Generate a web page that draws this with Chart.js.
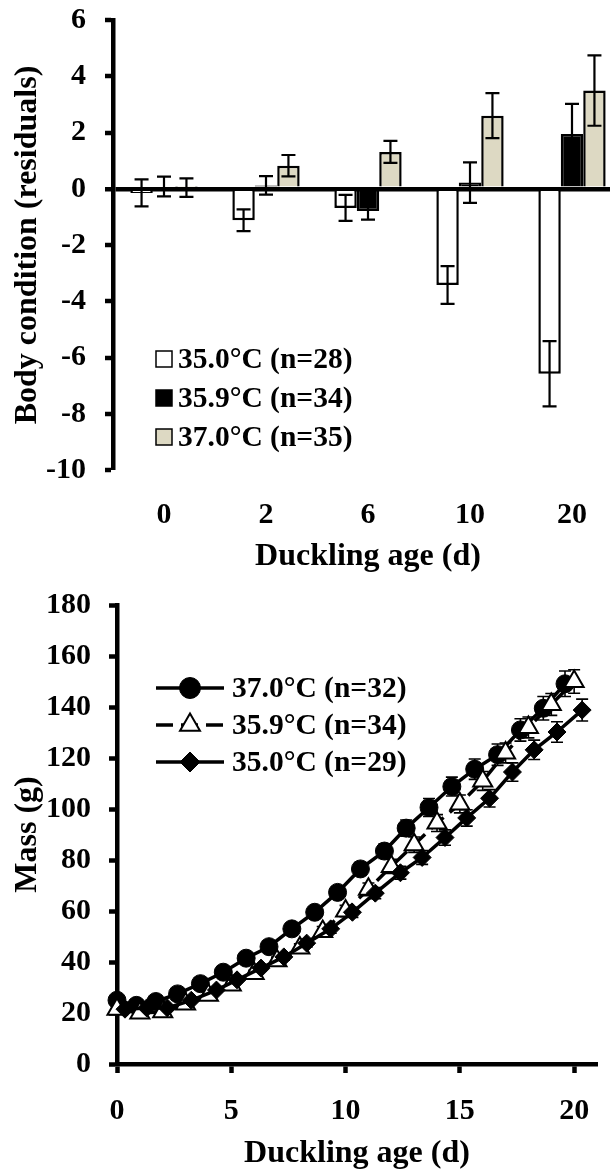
<!DOCTYPE html>
<html>
<head>
<meta charset="utf-8">
<title>Duckling body condition and mass</title>
<script src="https://cdn.jsdelivr.net/npm/chart.js@4.4.1/dist/chart.umd.min.js"></script>
<style>
    html, body { margin: 0; padding: 0; background: #fff; overflow: hidden; }
    #wrap { position: relative; width: 610px; height: 1171px; overflow: hidden; }
    canvas { position: absolute; left: 0; }
    #conditionChart { top: 0; }
    #massChart { top: 585px; }
</style>
</head>
<body>
<div id="wrap">
    <canvas id="conditionChart" width="625" height="585"></canvas>
    <canvas id="massChart" width="610" height="586"></canvas>
</div>
<script>
// =============================================================================
// Duckling body condition (residuals) and mass by incubation temperature
// =============================================================================

// ==========================================
// 1. DATA
// ==========================================

// --- body condition, mean ± SE per age group
const ageGroups = ['0', '2', '6', '10', '20'];
const condTicks = [-10, -8, -6, -4, -2, 0, 2, 4, 6];

const cond350 = [-0.15, -1.12, -0.68, -3.42, -6.58];
const cond350Err = [0.48, 0.39, 0.46, 0.67, 1.16];
const cond359 = [0.08, 0.12, -0.79, 0.22, 1.95];
const cond359Err = [0.35, 0.33, 0.31, 0.72, 1.07];
const cond370 = [0.04, 0.82, 1.31, 2.60, 3.49];
const cond370Err = [0.33, 0.38, 0.39, 0.80, 1.25];

// --- mass growth, mean ± SE per measuring day
const massTicks = [0, 20, 40, 60, 80, 100, 120, 140, 160, 180];
const ageTicks = [0, 5, 10, 15, 20];

const day370 = [0, 0.85, 1.7, 2.65, 3.65, 4.65, 5.65, 6.65, 7.65, 8.65, 9.65, 10.65, 11.7, 12.65, 13.65, 14.65, 15.65, 16.65, 17.65, 18.65, 19.6];
const mass370 = [25, 23, 24.5, 27.5, 31.5, 36, 41.5, 46, 53, 59.5, 67.3, 76.5, 83.5, 92.5, 100.6, 108.8, 115.6, 121.3, 131, 139.5, 149.1];
const mass370Err = [0.6, 0.6, 0.7, 0.8, 1.0, 1.1, 1.3, 1.5, 1.7, 2.0, 2.3, 2.6, 2.9, 3.2, 3.5, 3.7, 4.0, 4.2, 4.4, 4.6, 5.0];

const day359 = [0, 1, 2, 3, 4, 5, 6, 7, 8, 9, 10, 11, 12, 13, 14, 15, 16, 17, 18, 19, 20];
const mass359 = [21.5, 20, 20.5, 23.5, 27, 31, 35.5, 40.5, 45.5, 52, 60, 68.5, 77.5, 86, 94.5, 102, 111, 122, 132, 141, 150];
const mass359Err = [0.5, 0.5, 0.6, 0.7, 0.8, 1.0, 1.2, 1.4, 1.6, 1.9, 2.2, 2.5, 2.8, 3.0, 3.3, 3.5, 3.7, 3.9, 4.1, 4.3, 4.6];

const day350 = [0.35, 1.3, 2.2, 3.25, 4.35, 5.25, 6.3, 7.3, 8.3, 9.35, 10.3, 11.3, 12.4, 13.35, 14.35, 15.3, 16.3, 17.3, 18.25, 19.25, 20.35];
const mass350 = [21.5, 22, 22, 25, 29, 33, 37.6, 42, 47.4, 53, 59.5, 67, 75, 81, 88.8, 96.5, 104.2, 114.5, 123.2, 130.2, 138.8];
const mass350Err = [0.5, 0.5, 0.6, 0.7, 0.8, 0.9, 1.1, 1.3, 1.5, 1.7, 2.0, 2.2, 2.5, 2.7, 3.0, 3.2, 3.4, 3.6, 3.8, 4.0, 4.3];

// ==========================================
// 2. SHARED STYLE
// ==========================================

const SERIF = '"Liberation Serif", "Times New Roman", serif';
const tickFont = { family: SERIF, size: 30, weight: 'bold', lineHeight: 1.2 };
const titleFont = { family: SERIF, size: 32, weight: 'bold', lineHeight: 1 };
const AXIS_W = 4.5;

const toPoints = (xs, ys) => xs.map((x, i) => ({ x, y: ys[i] }));
const fixedTicks = (values) => (scale) => { scale.ticks = values.map(v => ({ value: v })); };

// pin an axis box to a fixed size and drop the label overflow padding
const fixedBox = (size) => (s) => {
    if (s.isHorizontal()) {
        s.height = size;
        s.paddingLeft = 0;
        s.paddingRight = 0;
    } else {
        s.width = size;
        s.paddingTop = 0;
        s.paddingBottom = 0;
    }
};

// error bars drawn from each dataset's `errors` list through the y scale
const errorBars = (capHalf, width) => ({
    id: 'errorBars',
    _draw(chart) {
        const { ctx, scales: { y } } = chart;
        ctx.save();
        ctx.strokeStyle = '#000';
        ctx.lineWidth = width;
        chart.data.datasets.forEach((ds, i) => {
            const meta = chart.getDatasetMeta(i);
            meta.data.forEach((el, j) => {
                const v = typeof ds.data[j] === 'object' ? ds.data[j].y : ds.data[j];
                const top = y.getPixelForValue(v + ds.errors[j]);
                const bot = y.getPixelForValue(v - ds.errors[j]);
                ctx.beginPath();
                ctx.moveTo(el.x, top); ctx.lineTo(el.x, bot);
                ctx.moveTo(el.x - capHalf, top); ctx.lineTo(el.x + capHalf, top);
                ctx.moveTo(el.x - capHalf, bot); ctx.lineTo(el.x + capHalf, bot);
                ctx.stroke();
            });
        });
        ctx.restore();
    }
});

// ==========================================
// 3. BODY CONDITION (BARS)
// ==========================================

const condErrPlugin = errorBars(7, 2.2);
condErrPlugin.afterDatasetsDraw = condErrPlugin._draw;

const condLegend = {
    id: 'condLegend',
    afterDraw(chart) {
        const ctx = chart.ctx;
        ctx.save();
        ctx.font = `bold 29.5px ${SERIF}`;
        ctx.textBaseline = 'middle';
        chart.data.datasets.forEach((ds, i) => {
            const y = 359 + i * 39;
            ctx.fillStyle = ds.backgroundColor;
            ctx.fillRect(156, y - 8, 16, 16);
            ctx.lineWidth = 1.5;
            ctx.strokeStyle = '#000';
            ctx.strokeRect(156, y - 8, 16, 16);
            ctx.fillStyle = '#000';
            ctx.fillText(ds.label, 178, y + 1);
        });
        ctx.restore();
    }
};

new Chart(document.getElementById('conditionChart'), {
    type: 'bar',
    data: {
        labels: ageGroups,
        datasets: [
            { label: '35.0°C (n=28)', data: cond350, errors: cond350Err, backgroundColor: '#ffffff' },
            { label: '35.9°C (n=34)', data: cond359, errors: cond359Err, backgroundColor: '#000000' },
            { label: '37.0°C (n=35)', data: cond370, errors: cond370Err, backgroundColor: '#ddd9c3' }
        ]
    },
    options: {
        responsive: false,
        devicePixelRatio: 1,
        animation: false,
        layout: { padding: { top: 20, right: 2, left: 0, bottom: 0 } },
        datasets: {
            bar: { borderColor: '#000', borderWidth: 2.5, categoryPercentage: 0.66, barPercentage: 1 }
        },
        plugins: { legend: { display: false }, tooltip: { enabled: false } },
        scales: {
            x: {
                grid: { display: false, drawTicks: false },
                border: { display: false },
                ticks: { color: '#000', font: tickFont, padding: 27 },
                title: { display: true, text: 'Duckling age (d)', color: '#000', font: titleFont, padding: { top: 0, bottom: 12 } },
                afterFit: fixedBox(115)
            },
            y: {
                min: -10,
                max: 6,
                z: 1,
                afterBuildTicks: fixedTicks(condTicks),
                border: { display: true, color: '#000', width: AXIS_W },
                grid: {
                    drawOnChartArea: true,
                    color: (c) => (c.tick && c.tick.value === 0 ? '#000' : 'rgba(0,0,0,0)'),
                    lineWidth: (c) => (c.tick && c.tick.value === 0 ? AXIS_W : 0),
                    tickColor: '#000',
                    tickWidth: AXIS_W,
                    tickLength: 8
                },
                ticks: { color: '#000', font: tickFont, padding: 19, callback: (v) => String(v) },
                title: { display: true, text: 'Body condition (residuals)', color: '#000', font: titleFont, padding: { top: 12, bottom: 0 } },
                afterFit: fixedBox(113)
            }
        }
    },
    plugins: [condErrPlugin, condLegend]
});

// ==========================================
// 4. MASS GROWTH (LINES)
// ==========================================

const massErrPlugin = errorBars(6, 1.6);
massErrPlugin.beforeDatasetsDraw = massErrPlugin._draw;

const massLegend = {
    id: 'massLegend',
    afterDraw(chart) {
        const ctx = chart.ctx;
        const sizes = [10.5, 11.5, 10];
        chart.data.datasets.forEach((ds, i) => {
            const y = 103 + i * 37;
            ctx.save();
            ctx.strokeStyle = '#000';
            ctx.lineWidth = ds.borderWidth;
            ctx.setLineDash(ds.borderDash || []);
            ctx.beginPath();
            ctx.moveTo(156, y);
            ctx.lineTo(224, y);
            ctx.stroke();
            ctx.setLineDash([]);
            ctx.fillStyle = ds.pointBackgroundColor;
            ctx.lineWidth = ds.pointBorderWidth;
            Chart.helpers.drawPoint(ctx, { pointStyle: ds.pointStyle, radius: sizes[i], rotation: 0, borderWidth: ds.pointBorderWidth }, 190, y);
            ctx.fillStyle = '#000';
            ctx.font = `bold 29.5px ${SERIF}`;
            ctx.textBaseline = 'middle';
            ctx.fillText(ds.label, 232, y + 1);
            ctx.restore();
        });
    }
};

const lineBase = { borderColor: '#000', pointBorderColor: '#000', tension: 0, clip: false };

new Chart(document.getElementById('massChart'), {
    type: 'line',
    data: {
        datasets: [
            {
                ...lineBase, label: '37.0°C (n=32)', data: toPoints(day370, mass370), errors: mass370Err,
                borderWidth: 3.5, pointStyle: 'circle', pointRadius: 9,
                pointBackgroundColor: '#000', pointBorderWidth: 1, order: 3
            },
            {
                ...lineBase, label: '35.9°C (n=34)', data: toPoints(day359, mass359), errors: mass359Err,
                borderWidth: 3.5, borderDash: [17, 8], pointStyle: 'triangle', pointRadius: 11,
                pointBackgroundColor: '#fff', pointBorderWidth: 2, order: 2
            },
            {
                ...lineBase, label: '35.0°C (n=29)', data: toPoints(day350, mass350), errors: mass350Err,
                borderWidth: 3.5, pointStyle: 'rectRot', pointRadius: 9,
                pointBackgroundColor: '#000', pointBorderWidth: 1, order: 1
            }
        ]
    },
    options: {
        responsive: false,
        devicePixelRatio: 1,
        animation: false,
        layout: { padding: { top: 20, right: 12, left: 0, bottom: 0 } },
        plugins: { legend: { display: false }, tooltip: { enabled: false } },
        scales: {
            x: {
                type: 'linear',
                min: 0,
                max: 21,
                afterBuildTicks: fixedTicks(ageTicks),
                border: { display: true, color: '#000', width: AXIS_W },
                grid: { drawOnChartArea: false, tickColor: '#000', tickWidth: AXIS_W, tickLength: 9 },
                ticks: { color: '#000', font: tickFont, padding: 20, callback: (v) => String(v) },
                title: { display: true, text: 'Duckling age (d)', color: '#000', font: titleFont, padding: { top: 0, bottom: 1 } },
                afterFit: fixedBox(107)
            },
            y: {
                min: 0,
                max: 180,
                afterBuildTicks: fixedTicks(massTicks),
                border: { display: true, color: '#000', width: AXIS_W },
                grid: { drawOnChartArea: false, tickColor: '#000', tickWidth: AXIS_W, tickLength: 8 },
                ticks: { color: '#000', font: tickFont, padding: 18, callback: (v) => String(v) },
                title: { display: true, text: 'Mass (g)', color: '#000', font: titleFont, padding: { top: 12, bottom: 0 } },
                afterFit: fixedBox(117)
            }
        }
    },
    plugins: [massErrPlugin, massLegend]
});
</script>
</body>
</html>
